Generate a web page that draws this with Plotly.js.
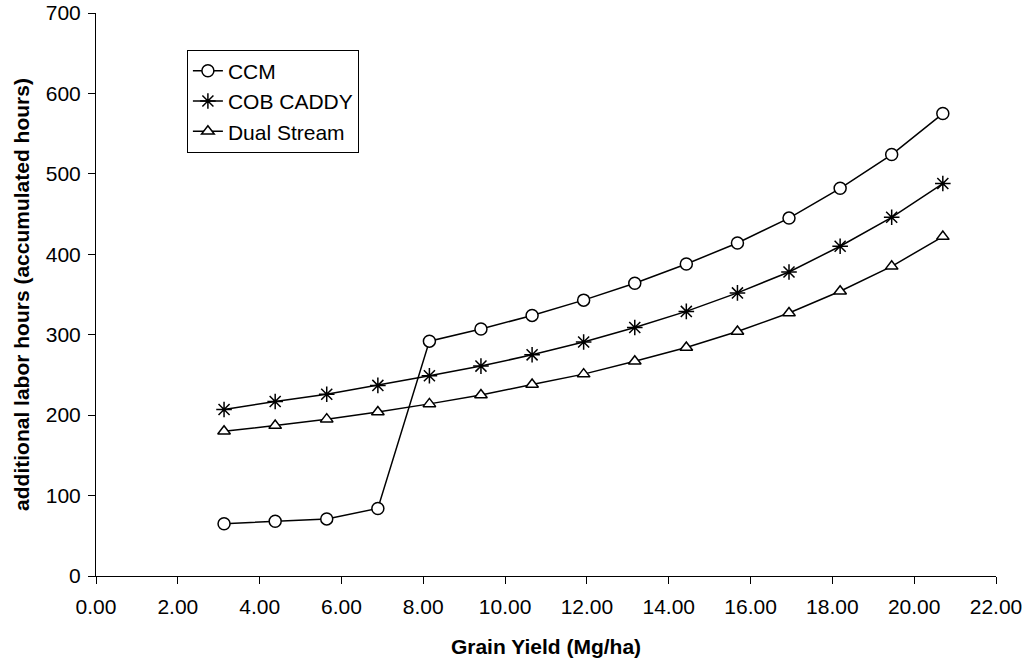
<!DOCTYPE html>
<html>
<head>
<meta charset="utf-8">
<script src="https://cdn.plot.ly/plotly-3.0.1.min.js"></script>
<style>html,body{margin:0;padding:0;background:#fff}#chart{width:1023px;height:660px}</style>
</head>
<body>
<div id="chart"></div>
<script>
const grainYield = [3.13, 4.38, 5.64, 6.89, 8.15, 9.41, 10.66, 11.92, 13.17, 14.43, 15.68, 16.94, 18.19, 19.45, 20.70];
const ccm = [65, 68, 71, 84, 292, 307, 324, 343, 364, 388, 414, 445, 482, 524, 575];
const cobCaddy = [207, 217, 226, 237, 249, 261, 275, 291, 309, 329, 352, 378, 410, 446, 488];
const dualStream = [180, 187, 195, 204, 214, 225, 238, 251, 267, 284, 304, 327, 354, 385, 422];
const seriesNames = ["CCM", "COB CADDY", "Dual Stream"];
const xTickVals = [0, 2, 4, 6, 8, 10, 12, 14, 16, 18, 20, 22];
const xTickText = ["0.00", "2.00", "4.00", "6.00", "8.00", "10.00", "12.00", "14.00", "16.00", "18.00", "20.00", "22.00"];

const font = "Liberation Sans, Arial, sans-serif";
function tr(y, name, symbol, size) {
  return {
    x: grainYield, y: y, name: name, type: "scatter", mode: "lines+markers",
    line: {color: "#000", width: 1.5},
    marker: {symbol: symbol, size: size, color: symbol === "circle" || symbol === "triangle-up" ? "#fff" : "#000",
             line: {color: "#000", width: 1.5}}
  };
}
const data = [
  tr(ccm, seriesNames[0], "circle", 12),
  tr(cobCaddy, seriesNames[1], "asterisk-open", 13),
  tr(dualStream, seriesNames[2], "triangle-up", 11)
];
const layout = {
  width: 1023, height: 660,
  margin: {l: 96, r: 27, t: 13, b: 84},
  paper_bgcolor: "#fff", plot_bgcolor: "#fff",
  font: {family: font, size: 20, color: "#000"},
  showlegend: true,
  legend: {x: 0.101, y: 0.935, xanchor: "left", yanchor: "top",
           bordercolor: "#000", borderwidth: 1, bgcolor: "#fff",
           font: {family: font, size: 21, color: "#000"}, tracegroupgap: 0, itemwidth: 30},
  xaxis: {
    range: [0, 22], tickvals: xTickVals, ticktext: xTickText,
    showgrid: false, zeroline: false, showline: true, linecolor: "#000", linewidth: 1,
    ticks: "outside", ticklen: 7, tickcolor: "#000", ticklabelstandoff: 5,
    tickfont: {family: font, size: 21},
    title: {text: "<b>Grain Yield (Mg/ha)</b>", font: {family: font, size: 21}, standoff: 22}
  },
  yaxis: {
    range: [0, 700], dtick: 100,
    showgrid: false, zeroline: false, showline: true, linecolor: "#000", linewidth: 1,
    ticks: "outside", ticklen: 7, tickcolor: "#000", ticklabelstandoff: 3,
    tickfont: {family: font, size: 21},
    title: {text: "<b>additional labor hours (accumulated hours)</b>", font: {family: font, size: 21}, standoff: 10}
  }
};
Plotly.newPlot("chart", data, layout, {displayModeBar: false});
</script>
</body>
</html>
